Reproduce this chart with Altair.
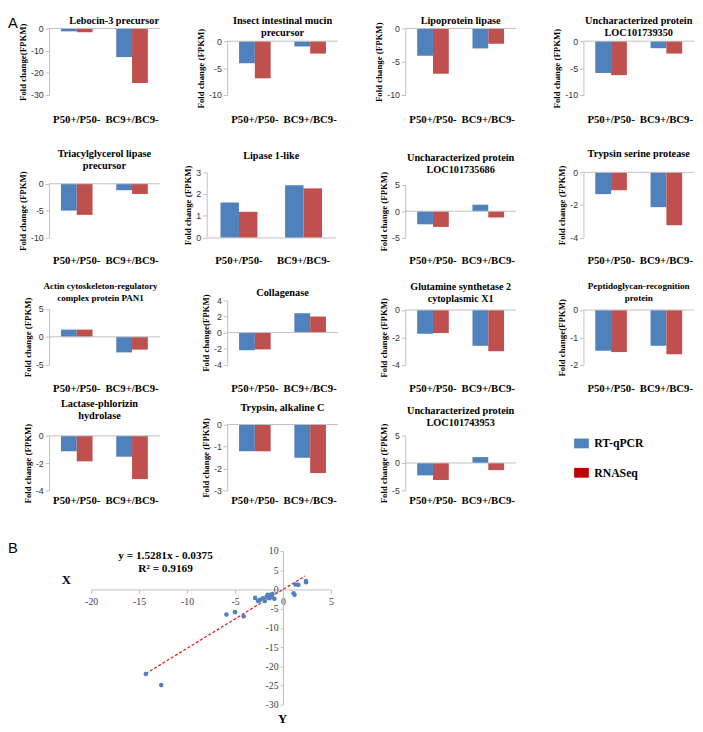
import altair as alt
import pandas as pd

# ---------------- data ----------------
conditions = ["P50+/P50-", "BC9+/BC9-"]
methods = ["RT-qPCR", "RNASeq"]

gene_titles = [
    "Lebocin-3 precursor",
    "Insect intestinal mucin\nprecursor",
    "Lipoprotein lipase",
    "Uncharacterized protein\nLOC101739350",
    "Triacylglycerol lipase\nprecursor",
    "Lipase 1-like",
    "Uncharacterized protein\nLOC101735686",
    "Trypsin serine protease",
    "Actin cytoskeleton-regulatory\ncomplex protein PAN1",
    "Collagenase",
    "Glutamine synthetase 2\ncytoplasmic X1",
    "Peptidoglycan-recognition\nprotein",
    "Lactase-phlorizin\nhydrolase",
    "Trypsin, alkaline C",
    "Uncharacterized protein\nLOC101743953",
]
y_titles = [
    "Fold change(FPKM)", "Fold change (FPKM)", "Fold change (FPKM)", "Fold change (FPKM)",
    "Fold change (FPKM)", "Fold change (FPKM)", "Fold change (FPKM)", "Fold change (FPKM)",
    "Fold change (FPKM)", "Fold change(FPKM)", "Fold change (FPKM)", "Fold change(FPKM)",
    "Fold change (FPKM)", "Fold change (FPKM)", "Fold change (FPKM)",
]
qpcr_p50 = [-1.3, -4.1, -4.1, -5.9, -5.0, 1.61, -2.5, -1.34, 1.3, -2.2, -1.74, -1.49, -1.13, -1.22, -2.26]
qpcr_bc9 = [-12.9, -1.0, -3.0, -1.3, -1.2, 2.40, 1.25, -2.14, -2.8, 2.4, -2.62, -1.31, -1.53, -1.51, 1.07]
rnaseq_p50 = [-1.7, -6.9, -6.8, -6.3, -5.8, 1.18, -3.0, -1.1, 1.3, -2.1, -1.69, -1.54, -1.87, -1.22, -3.1]
rnaseq_bc9 = [-24.6, -2.3, -2.3, -2.3, -1.9, 2.26, -1.2, -3.25, -2.3, 2.0, -3.02, -1.62, -3.17, -2.21, -1.3]
y_domains = [[-30, 0], [-10, 0], [-10, 0], [-10, 0], [-10, 0], [0, 3], [-5, 5], [-4, 0],
             [-5, 5], [-4, 4], [-4, 0], [-2, 0], [-4, 0], [-3, 0], [-5, 5]]
y_ticks = [[-30, -20, -10, 0], [-10, -5, 0], [-10, -5, 0], [-10, -5, 0], [-10, -5, 0], [0, 1, 2, 3],
           [-5, 0, 5], [-4, -2, 0], [-5, 0, 5], [-4, -2, 0, 2, 4], [-4, -2, 0], [-2, -1, 0],
           [-4, -2, 0], [-3, -2, -1, 0], [-5, 0, 5]]

legend_labels = ["RT-qPCR", "RNASeq"]
legend_colors = ["#4F81BD", "#C00000"]

scatter_x = [-14.3, -12.7, -5.9, -5.0, -4.1, -2.9, -2.6, -2.4, -2.1, -1.9, -1.7, -1.6, -1.4,
             -1.3, -1.2, -1.1, -0.9, 1.1, 1.2, 1.3, 1.6, 2.4, 2.4]
scatter_y = [-22.0, -24.9, -6.5, -5.9, -7.0, -2.2, -3.0, -2.7, -2.3, -3.0, -1.9, -1.4, -2.3,
             -1.4, -1.9, -1.2, -2.4, -1.0, -1.4, 1.3, 1.2, 2.2, 1.9]
trend_x = [-14.3, 2.3]
trend_y = [-21.9, 3.5]
equation = "y = 1.5281x - 0.0375\nR\u00b2 = 0.9169"
scatter_x_ticks = [-20, -15, -10, -5, 0, 5]
scatter_y_ticks = [-30, -25, -20, -15, -10, -5, 0, 5, 10]

# ---------------- style / layout (page pixels) ----------------
SERIF = "Liberation Serif"
SANS = "Liberation Sans"
BLUE = "#4F81BD"
RED = "#C0504D"
AXIS_GRAY = "#BFBFBF"

PAGE_TOP = 12.5
PANEL_W = 113
row_tops = [20, 128, 270, 398]
row_bottoms = [93, 236.5, 364.5, 491]
label_pads = [19.5, 18, 18, 4.5]
plot_tops = [25, 38, 25, 38, 181.7, 170, 183, 170, 307.7, 299, 308.7, 308.7, 435.3, 423.7, 435]
title_centers = [12, 8, 12, 8, 151, 153, 155.5, 151, 285, 291.7, 285, 285, 403, 406.7, 410]
title_sizes = [10.5, 10.5, 10.5, 10.5, 10.5, 10.5, 10.5, 10.5, 9.2, 10.5, 10.3, 9.3, 10.5, 10.5, 10.5]
title_dx = [10, 0, 0, 0, 0, 0, 0, 0, -4, 0, 0, 0, -5, 0, 0]
x_ranges = [[0, PANEL_W]] * 5 + [[-21, 111]] + [[0, PANEL_W]] * 9


def panel(i):
    r = i // 4
    T = row_tops[r]
    H = row_bottoms[r] - T
    rng = [H, plot_tops[i] - T]
    xr = x_ranges[i]
    zero_at_bottom = y_domains[i][0] == 0
    df = pd.DataFrame({
        "cond": conditions * 2,
        "method": [methods[0]] * 2 + [methods[1]] * 2,
        "value": [qpcr_p50[i], qpcr_bc9[i], rnaseq_p50[i], rnaseq_bc9[i]],
    })
    yscale = alt.Scale(domain=y_domains[i], range=rng, nice=False, zero=False)
    bars = alt.Chart(df).mark_bar().encode(
        x=alt.X("cond:N", sort=conditions,
                scale=alt.Scale(domain=conditions, range=xr, paddingInner=0, paddingOuter=0),
                axis=alt.Axis(title=None, domain=zero_at_bottom, domainColor=AXIS_GRAY,
                              ticks=False, labelAngle=0,
                              labelPadding=label_pads[r], labelFont=SERIF, labelFontWeight="bold",
                              labelFontSize=11, labelColor="black")),
        xOffset=alt.XOffset("method:N", sort=methods,
                            scale=alt.Scale(domain=methods, paddingInner=0, paddingOuter=0.75)),
        y=alt.Y("value:Q", scale=yscale,
                axis=alt.Axis(values=y_ticks[i], tickCount=20, title=y_titles[i], grid=False,
                              offset=-xr[0],
                              domainColor=AXIS_GRAY, tickColor=AXIS_GRAY, tickSize=4,
                              labelFont=SANS, labelFontSize=9, labelColor="#333333",
                              labelPadding=2, labelExpr="'' + datum.value", labelOverlap=False,
                              labelFlush=False,
                              titleFont=SERIF, titleFontSize=9, titleFontWeight="bold",
                              titleColor="black", titlePadding=3)),
        color=alt.Color("method:N", scale=alt.Scale(domain=methods, range=[BLUE, RED]), legend=None),
    )
    title_y = max(title_centers[i] - 5, PAGE_TOP) - T
    ttl = alt.Chart(pd.DataFrame({"t": [gene_titles[i]]})).mark_text(
        lineBreak="\n", font=SERIF, fontWeight="bold", fontSize=title_sizes[i], baseline="top",
        align="center", lineHeight=12.5, color="black"
    ).encode(x=alt.value((xr[0] + xr[1]) / 2 + title_dx[i]), y=alt.value(title_y), text="t:N")
    layers = [bars, ttl]
    if not zero_at_bottom:
        zero = alt.Chart(pd.DataFrame({"z": [0]})).mark_rule(color=AXIS_GRAY, strokeWidth=1).encode(
            y=alt.datum(0)
        )
        layers.insert(1, zero)
    if i == 0:
        letter = alt.Chart(pd.DataFrame({"t": ["A"]})).mark_text(
            font=SANS, fontSize=15, align="left", baseline="top", color="black"
        ).encode(x=alt.value(-42), y=alt.value(PAGE_TOP - T), text="t:N")
        layers.append(letter)
    return alt.layer(*layers).properties(width=PANEL_W, height=H)


def legend_panel():
    T = row_tops[3]
    H = row_bottoms[3] - T
    leg = pd.DataFrame({"label": legend_labels, "col": legend_colors})
    yenc = alt.Y("label:N", sort=legend_labels, axis=None,
                 scale=alt.Scale(domain=legend_labels, range=[443 - T, 473 - T], padding=0))
    sw = alt.Chart(leg).mark_point(
        shape="M-1,-0.667L1,-0.667L1,0.667L-1,0.667Z", filled=True, size=225, opacity=1
    ).encode(x=alt.value(-2), y=yenc,
             color=alt.Color("label:N", scale=alt.Scale(domain=legend_labels, range=legend_colors),
                             legend=None))
    tx = alt.Chart(leg).mark_text(font=SERIF, fontWeight="bold", fontSize=12, align="left",
                                  baseline="middle", color="black").encode(
        x=alt.value(11), y=yenc, text="label:N")
    return alt.layer(sw, tx).properties(width=PANEL_W, height=H)


panels = [panel(i) for i in range(15)] + [legend_panel()]
grid = alt.concat(*panels, columns=4, spacing={"row": 6, "column": 5},
                  align={"row": "each", "column": "all"}).resolve_scale(
    x="independent", y="independent", color="independent", xOffset="independent")

# ---------------- scatter (B) ----------------
S_TOP = 541
S_H = 185
SX_RANGE = [92 - 49, 337 - 49]
SY_RANGE = [708 - S_TOP, 551 - S_TOP]
SX_DOM = [-20, 5]
SY_DOM = [-30, 10]
x_axis_y = SY_RANGE[1] + (SY_RANGE[0] - SY_RANGE[1]) * (SY_DOM[1] - 0) / (SY_DOM[1] - SY_DOM[0])
y_axis_x = SX_RANGE[0] + (SX_RANGE[1] - SX_RANGE[0]) * (0 - SX_DOM[0]) / (SX_DOM[1] - SX_DOM[0])

xs = alt.Scale(domain=SX_DOM, range=SX_RANGE, nice=False, zero=False)
ys = alt.Scale(domain=SY_DOM, range=SY_RANGE, nice=False, zero=False)
x_axis = alt.Axis(values=scatter_x_ticks, tickCount=20, grid=False, offset=-(S_H - x_axis_y),
                  domainColor=AXIS_GRAY, tickColor=AXIS_GRAY, tickSize=4, labelPadding=3,
                  labelFont=SERIF, labelFontSize=10, labelColor="#404040",
                  labelExpr="'' + datum.value", labelOverlap=False, labelFlush=False, title="X",
                  titleFont=SERIF, titleFontSize=13, titleFontWeight="bold", titleColor="black",
                  titleX=66 - 49, titleY=580 - S_TOP - x_axis_y, titleBaseline="middle",
                  titleAlign="center")
y_axis = alt.Axis(values=scatter_y_ticks, tickCount=20, grid=False, offset=-y_axis_x,
                  domainColor=AXIS_GRAY, tickColor=AXIS_GRAY, tickSize=3, labelPadding=2,
                  labelFont=SERIF, labelFontSize=10, labelColor="#404040",
                  labelExpr="'' + datum.value", labelOverlap=False, labelFlush=False, title="Y",
                  titleFont=SERIF, titleFontSize=13, titleFontWeight="bold", titleColor="black",
                  titleAngle=0, titleX=-1, titleY=722 - S_TOP, titleBaseline="middle",
                  titleAlign="center")

pts = alt.Chart(pd.DataFrame({"x": scatter_x, "y": scatter_y})).mark_circle(
    size=22, color=BLUE, opacity=1).encode(
    x=alt.X("x:Q", scale=xs, axis=x_axis), y=alt.Y("y:Q", scale=ys, axis=y_axis))
trend = alt.Chart(pd.DataFrame({"x": trend_x, "y": trend_y})).mark_line(
    color="#E0201B", strokeDash=[3, 2], strokeWidth=1.3).encode(
    x=alt.X("x:Q", scale=xs, axis=x_axis), y=alt.Y("y:Q", scale=ys, axis=y_axis))
eq = alt.Chart(pd.DataFrame({"t": [equation]})).mark_text(
    lineBreak="\n", font=SERIF, fontWeight="bold", fontSize=11.5, lineHeight=13.5,
    align="center", baseline="middle", color="black").encode(
    x=alt.value(168 - 49), y=alt.value(555.7 - S_TOP), text="t:N")
letter_b = alt.Chart(pd.DataFrame({"t": ["B"]})).mark_text(
    font=SANS, fontSize=15, align="left", baseline="middle", color="black").encode(
    x=alt.value(-42), y=alt.value(548 - S_TOP), text="t:N")
scatter = alt.layer(trend, pts, eq, letter_b).properties(width=300, height=S_H)

chart = alt.vconcat(grid, scatter, spacing=36).properties(padding=0).configure_view(
    stroke=None)

chart.save("out.html", embed_options={"renderer": "svg", "actions": False})
